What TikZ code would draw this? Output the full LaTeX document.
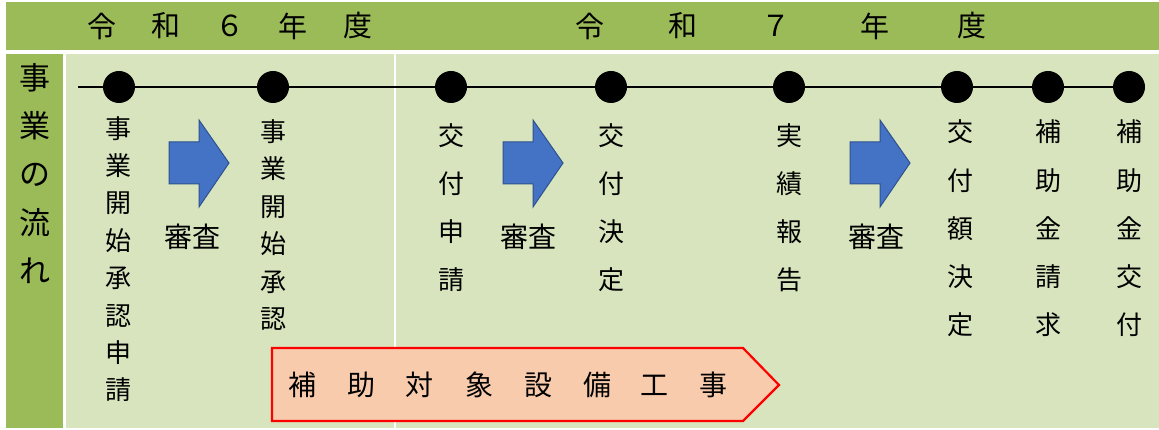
\documentclass[tikz,border=0pt]{standalone}
\usepackage{fontspec}
\setmainfont{Noto Sans CJK JP}

\definecolor{hdrgreen}{HTML}{9BBB59}
\definecolor{panelgreen}{HTML}{D7E4BD}
\definecolor{arrowblue}{HTML}{4472C4}
\definecolor{arrowedge}{HTML}{2F528F}
\definecolor{worksalmon}{HTML}{F8CBAD}

\tikzset{
  event/.style={circle,fill=black,minimum size=32pt,inner sep=0pt},
  tate/.style 2 args={align=center,inner sep=0pt,font=\fontsize{#1}{#2}\selectfont},
  yearchar/.style={inner sep=0pt,font=\fontsize{29}{30}\selectfont},
  review/.style={fill=arrowblue,draw=arrowedge,line width=1pt},
  reviewlabel/.style={inner sep=0pt,font=\fontsize{28}{30}\selectfont},
  works/.style={fill=worksalmon,draw=red,line width=2.2pt},
  workchar/.style={inner sep=0pt,font=\fontsize{28}{30}\selectfont}
}

\begin{document}
\begin{tikzpicture}[x=1pt,y=-1pt]
\useasboundingbox (0,0) rectangle (1159,430);
% bands
\fill[hdrgreen] (6,2) rectangle (1159,50);
\fill[hdrgreen] (6,54) rectangle (63,428);
\fill[panelgreen] (66,54) rectangle (394,428);
\fill[panelgreen] (396,54) rectangle (1159,428);

% fiscal years
\foreach \x/\c in {102/令,166/和,230/６,293/年,358/度,590/令,683/和,776/７,875/年,972/度}
  \node[yearchar] (yr\x) at (\x,26) {\c};

\node[tate={31}{48.2}] (flow) at (35,173.5) {事\\業\\の\\流\\れ};

% timeline
\coordinate (tl-start) at (78,87);
\foreach \n/\x in {1/119,2/273,3/451,4/611,5/789,6/957,7/1048,8/1129}
  \node[event] (d\n) at (\x,87) {};
\draw[line width=1.2pt] (tl-start) -- (d8.center);

\node[tate={26}{37.4}] (start-req) at (118,259) {事\\業\\開\\始\\承\\認\\申\\請};
\node[tate={26}{37.4}] (start-ok) at (273,225) {事\\業\\開\\始\\承\\認};
\node[tate={26}{48}] (grant-req) at (451,208) {交\\付\\申\\請};
\node[tate={26}{48}] (grant-ok) at (611,208) {交\\付\\決\\定};
\node[tate={26}{48}] (report) at (789,208) {実\\績\\報\\告};
\node[tate={26}{48.2}] (amount-ok) at (960,228.5) {交\\付\\額\\決\\定};
\node[tate={26}{48.2}] (pay-req) at (1048,228.5) {補\\助\\金\\請\\求};
\node[tate={26}{48.2}] (pay) at (1129,228.5) {補\\助\\金\\交\\付};

% review arrows
\foreach \x/\l/\m in {169/192/1,503/528/2,850/876/3} {
  \draw[review] (\x,142) -- (\x+30,142) -- (\x+30,120) -- (\x+60,163)
    -- (\x+30,207) -- (\x+30,184) -- (\x,184) -- cycle;
  \node[reviewlabel] (rv\m) at (\l,237) {審査};
}

% works
\draw[works] (272,348) -- (743,348) -- (779,385) -- (743,421) -- (272,421) -- cycle;
\foreach \x/\c in {302/補,361/助,419/対,479/象,538/設,597/備,654/工,713/事}
  \node[workchar] (wk\x) at (\x,385) {\c};
\end{tikzpicture}
\end{document}
